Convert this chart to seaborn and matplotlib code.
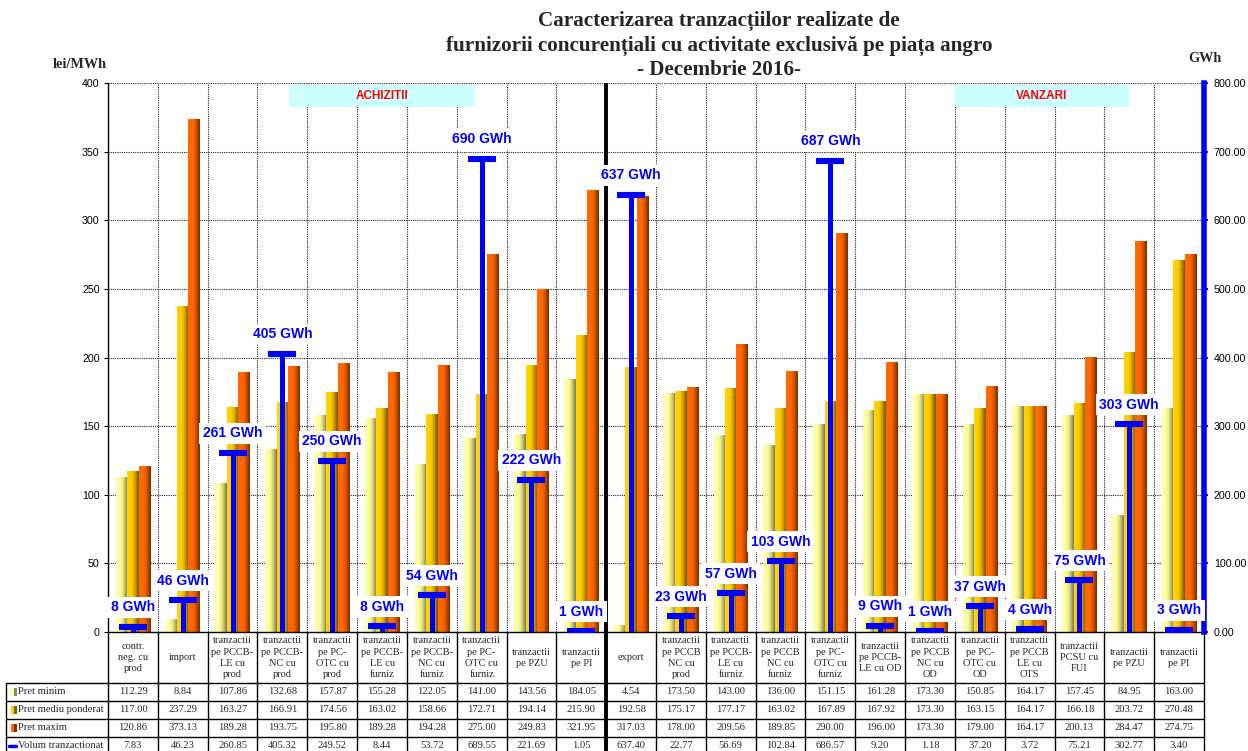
import numpy as np
import pandas as pd
import matplotlib
matplotlib.use("Agg")
import matplotlib.pyplot as plt
import seaborn as sns
from matplotlib import transforms
from matplotlib.colors import LinearSegmentedColormap, to_rgb
from matplotlib.patches import Rectangle
from matplotlib.lines import Line2D

# ---------------- data ----------------
categories = [
    "contr.\nneg. cu\nprod", "import",
    "tranzactii\npe PCCB-\nLE cu\nprod", "tranzactii\npe PCCB-\nNC cu\nprod",
    "tranzactii\npe PC-\nOTC cu\nprod", "tranzactii\npe PCCB-\nLE cu\nfurniz",
    "tranzactii\npe PCCB-\nNC cu\nfurniz", "tranzactii\npe PC-\nOTC cu\nfurniz",
    "tranzactii\npe PZU", "tranzactii\npe PI",
    "export", "tranzactii\npe PCCB\nNC cu\nprod",
    "tranzactii\npe PCCB-\nLE cu\nfurniz", "tranzactii\npe PCCB\nNC cu\nfurniz",
    "tranzactii\npe PC-\nOTC cu\nfurniz", "tranzactii\npe PCCB-\nLE cu OD",
    "tranzactii\npe PCCB\nNC cu\nOD", "tranzactii\npe PC-\nOTC cu\nOD",
    "tranzactii\npe PCCB\nLE cu\nOTS", "tranzactii\nPCSU cu\nFUI",
    "tranzactii\npe PZU", "tranzactii\npe PI",
]
pret_minim = [112.29, 8.84, 107.86, 132.68, 157.87, 155.28, 122.05, 141.00, 143.56, 184.05,
              4.54, 173.50, 143.00, 136.00, 151.15, 161.28, 173.30, 150.85, 164.17, 157.45, 84.95, 163.00]
pret_mediu_ponderat = [117.00, 237.29, 163.27, 166.91, 174.56, 163.02, 158.66, 172.71, 194.14, 215.90,
                       192.58, 175.17, 177.17, 163.02, 167.89, 167.92, 173.30, 163.15, 164.17, 166.18, 203.72, 270.48]
pret_maxim = [120.86, 373.13, 189.28, 193.75, 195.80, 189.28, 194.28, 275.00, 249.83, 321.95,
              317.03, 178.00, 209.56, 189.85, 290.00, 196.00, 173.30, 179.00, 164.17, 200.13, 284.47, 274.75]
volum_tranzactionat = [7.83, 46.23, 260.85, 405.32, 249.52, 8.44, 53.72, 689.55, 221.69, 1.05,
                       637.40, 22.77, 56.69, 102.84, 686.57, 9.20, 1.18, 37.20, 3.72, 75.21, 302.77, 3.40]
series_names = ["Pret minim", "Pret mediu ponderat", "Pret maxim"]
row_names = series_names + ["Volum tranzactionat"]
price_ticks = [0, 50, 100, 150, 200, 250, 300, 350, 400]
volume_ticks = [0, 100, 200, 300, 400, 500, 600, 700, 800]
title_lines = ["Caracterizarea tranzacțiilor realizate de",
               "furnizorii concurențiali cu activitate exclusivă pe piața angro",
               "- Decembrie 2016-"]
group_labels = ["ACHIZITII", "VANZARI"]

# ---------------- style ----------------
sns.set_style("white")
plt.rcParams["font.family"] = ["Liberation Sans", "DejaVu Sans"]
SERIF = ["Liberation Serif", "DejaVu Serif"]

W, H = 1248, 751
fig = plt.figure(figsize=(W / 100, H / 100), dpi=100)


def fx(px):
    return px / W


def fy(py):
    return 1 - py / H


L, R, T, B = 108, 1204, 83, 632
ax = fig.add_axes([fx(L), fy(B), fx(R) - fx(L), fy(T) - fy(B)])

n = len(categories)
idx = list(range(n))
df = pd.DataFrame({
    "idx": idx * 3,
    "serie": [s for s in series_names for _ in range(n)],
    "val": pret_minim + pret_mediu_ponderat + pret_maxim,
})
base = ["#ffff99", "#ffcc00", "#ff6600"]
sns.barplot(data=df, x="idx", y="val", hue="serie", order=idx, hue_order=series_names,
            palette=base, width=0.69, gap=0, saturation=1, legend=False, ax=ax,
            linewidth=0, edgecolor="none", errorbar=None, zorder=2)

# gradient fill of bars
stops = [
    [(0, "#fdfdb4"), (0.35, "#ffff99"), (0.6, "#e2e27e"), (1, "#76765a")],
    [(0, "#ffd400"), (0.4, "#ffcc00"), (0.65, "#d6a600"), (1, "#6a5000")],
    [(0, "#ff6a00"), (0.45, "#ff6600"), (0.7, "#cc5000"), (1, "#762c00")],
]
cmaps = [LinearSegmentedColormap.from_list(f"g{k}", s) for k, s in enumerate(stops)]
grad = np.linspace(0, 1, 128).reshape(1, -1)
base_rgb = [np.array(to_rgb(c)) for c in base]
for p in list(ax.patches):
    fc = np.array(p.get_facecolor()[:3])
    k = int(np.argmin([np.sum((fc - b) ** 2) for b in base_rgb]))
    x0, y0, w, h = p.get_x(), p.get_y(), p.get_width(), p.get_height()
    if h <= 0:
        continue
    ax.imshow(grad, cmap=cmaps[k], extent=(x0, x0 + w, y0, y0 + h), aspect="auto",
              interpolation="bilinear", zorder=2.1)

ax.set_xlim(-0.5, n - 0.5)
ax.set_ylim(0, 400)
ax.set_yticks(price_ticks)
ax.set_xticks(np.arange(-0.5, n, 1), minor=True)
ax.grid(False)
ax.yaxis.grid(True, which="major", color="#222222", linestyle=(0, (1, 1)), linewidth=0.8)
ax.xaxis.grid(True, which="minor", color="#222222", linestyle=(0, (1, 1)), linewidth=0.8)
ax.set_axisbelow(True)
ax.tick_params(axis="x", which="minor", length=0)
ax.set_xticks(idx)
ax.set_xticklabels(categories, family=SERIF, fontsize=7.5, linespacing=1.3)
ax.tick_params(axis="x", which="major", length=0, pad=18.4)
for t in ax.get_xticklabels():
    t.set_va("center")
    t.set_ha("center")
    t.set_multialignment("center")
ax.set_xlabel("")
ax.set_ylabel("")
ax.tick_params(axis="y", labelsize=7.7, length=3, width=0.8, pad=3, colors="black")
ax.spines["top"].set_visible(False)
ax.spines["right"].set_visible(False)
for s in ["left", "bottom"]:
    ax.spines[s].set_color("black")
    ax.spines[s].set_linewidth(1.0)

# divider between purchases and sales
ax.axvline(9.5, color="black", lw=2.8, zorder=5)

# group boxes
for lbl, (xa, xb) in zip(group_labels, [(0.165, 0.335), (0.772, 0.932)]):
    ax.add_patch(Rectangle((xa, 0.956), xb - xa, 0.04, transform=ax.transAxes,
                           facecolor="#ccffff", edgecolor="none", zorder=1))
    ax.text((xa + xb) / 2, 0.976, lbl, transform=ax.transAxes, ha="center", va="center",
            color="#ff0000", fontweight="bold", fontsize=8.5, zorder=1.5)

# ---------------- volume on secondary axis ----------------
ax2 = ax.twinx()
ax2.set_ylim(0, 800)
ax2.set_yticks(volume_ticks)
ax2.set_yticklabels([f"{v:.2f}" for v in volume_ticks])
ax2.vlines(idx, 0, volum_tranzactionat, color="#0000ff", lw=3.6, zorder=3)
ax2.plot(idx, volum_tranzactionat, ls="none", marker="_", ms=19.5, mew=4.4,
         color="#0000ff", zorder=4)
for i, v in zip(idx, volum_tranzactionat):
    ax2.annotate(f"{v:.0f} GWh", (i, v), xytext=(0, 9), textcoords="offset points",
                 ha="center", va="bottom", color="#0000ff", fontweight="bold", fontsize=10,
                 bbox=dict(boxstyle="square,pad=0.25", fc="white", ec="none"),
                 zorder=6, annotation_clip=False)
for s in ["top", "left", "bottom"]:
    ax2.spines[s].set_visible(False)
ax2.spines["right"].set_color("#0000ff")
ax2.spines["right"].set_linewidth(4)
ax2.tick_params(axis="y", colors="#0000ff", labelcolor="black", length=3, width=1.5,
                labelsize=7.7, pad=4)
ax2.set_ylabel("")

# ---------------- titles ----------------
for txt, py in zip(title_lines, [21, 46, 70]):
    fig.text(fx(719), fy(py), txt, ha="center", va="center", family=SERIF,
             fontweight="bold", fontsize=15.2)
fig.text(fx(53), fy(64), "lei/MWh", ha="left", va="center", family=SERIF,
         fontweight="bold", fontsize=10.3)
fig.text(fx(1205), fy(58), "GWh", ha="center", va="center", family=SERIF,
         fontweight="bold", fontsize=10.3)

# ---------------- data table ----------------
blend = transforms.blended_transform_factory(ax.transData, fig.transFigure)
row_edges = [632, 683, 701, 719, 737, 755]
for py in row_edges[1:5]:
    fig.add_artist(Line2D([fx(6), fx(R)], [fy(py)] * 2, color="black", lw=1.0))
fig.add_artist(Line2D([fx(6)] * 2, [fy(683), 0], color="black", lw=1.0))
for b in np.arange(-0.5, n, 1):
    lw = 2.8 if abs(b - 9.5) < 1e-6 else 1.0
    fig.add_artist(Line2D([b, b], [fy(632), 0], transform=blend, color="black", lw=lw))

key_cols = [("#ffff99", "#8a8a60"), ("#ffcc00", "#806000"), ("#ff6600", "#803000")]
for r, (name, vals) in enumerate(zip(row_names, [pret_minim, pret_mediu_ponderat,
                                                 pret_maxim, volum_tranzactionat])):
    yc = (row_edges[r + 1] + row_edges[r + 2]) / 2
    for i, v in zip(idx, vals):
        fig.text(i, fy(yc), f"{v:.2f}", transform=blend, ha="center", va="center",
                 family=SERIF, fontsize=7.6)
    fig.text(fx(18), fy(yc), name, ha="left", va="center", family=SERIF, fontsize=7.6)
    if r < 3:
        c1, c2 = key_cols[r]
        fig.add_artist(Rectangle((fx(11), fy(yc + 4)), fx(3), 8 / H, facecolor=c1,
                                 edgecolor="none", transform=fig.transFigure))
        fig.add_artist(Rectangle((fx(14), fy(yc + 4)), fx(3), 8 / H, facecolor=c2,
                                 edgecolor="none", transform=fig.transFigure))
    else:
        fig.add_artist(Line2D([fx(9), fx(16)], [fy(yc)] * 2, color="#0000ff", lw=2.5))

fig.savefig("out.png", dpi=100)
